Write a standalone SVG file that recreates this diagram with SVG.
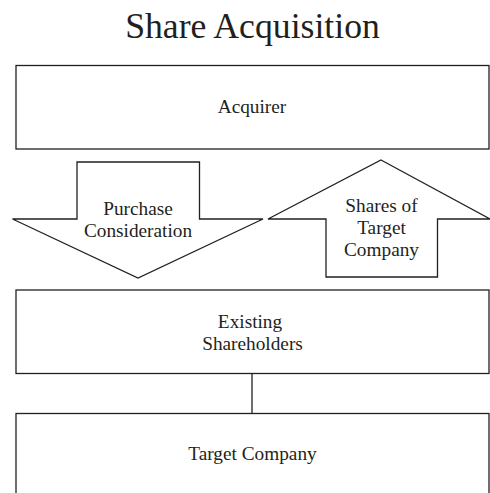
<svg xmlns="http://www.w3.org/2000/svg" width="490" height="493" viewBox="0 0 490 493">
<style>
.box{fill:#fff;stroke:#231f20;stroke-width:1.3}
.t{font-family:"Liberation Serif","Times New Roman",serif;font-size:19.3px;fill:#231f20;text-anchor:middle}
.title{font-family:"Liberation Serif","Times New Roman",serif;font-size:35.7px;fill:#231f20;text-anchor:middle}
.line{stroke:#231f20;stroke-width:1.3;fill:none}
</style>
<rect width="490" height="493" fill="#fff"/>
<text class="title" x="252.5" y="38">Share Acquisition</text>
<g id="acquirer">
<rect class="box" x="16" y="65.5" width="473" height="83.5"/>
<text class="t" x="252" y="112.5">Acquirer</text>
</g>
<g id="purchase-consideration">
<polygon class="box" points="77,162 199.5,162 199.5,219 263,219 138,278 12.5,219 77,219"/>
<text class="t" x="138" y="215">Purchase</text>
<text class="t" x="138" y="237">Consideration</text>
</g>
<g id="shares-of-target">
<polygon class="box" points="381,160 490,219 437.5,219 437.5,277 326,277 326,219 268,219"/>
<text class="t" x="381.5" y="212">Shares of</text>
<text class="t" x="381.5" y="234">Target</text>
<text class="t" x="381.5" y="256">Company</text>
</g>
<g id="existing-shareholders">
<rect class="box" x="16" y="290" width="473" height="83.5"/>
<text class="t" x="250" y="327.5">Existing</text>
<text class="t" x="252.5" y="350">Shareholders</text>
</g>
<g id="target-company">
<rect class="box" x="16" y="413.5" width="473" height="90"/>
<text class="t" x="252.5" y="460">Target Company</text>
</g>
<g id="connectors">
<line class="line" x1="252" y1="373.5" x2="252" y2="413.5"/>
</g>
</svg>
